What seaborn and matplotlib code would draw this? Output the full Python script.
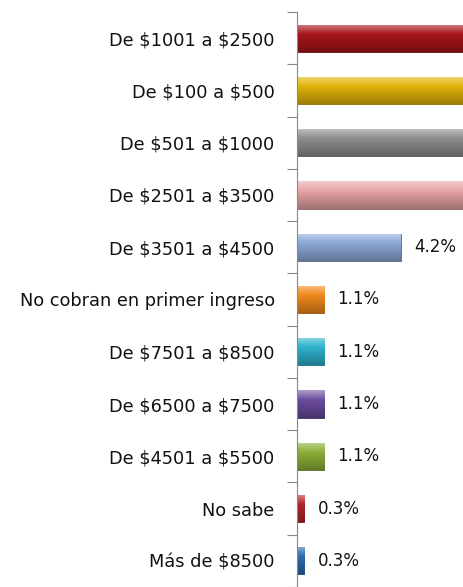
import numpy as np
import matplotlib.pyplot as plt
import matplotlib.colors as mcolors
import seaborn as sns

categories = [
    "De $1001 a $2500",
    "De $100 a $500",
    "De $501 a $1000",
    "De $2501 a $3500",
    "De $3501 a $4500",
    "No cobran en primer ingreso",
    "De $7501 a $8500",
    "De $6500 a $7500",
    "De $4501 a $5500",
    "No sabe",
    "Más de $8500",
]
# first four bars run off the visible area; values estimated
values = [32.6, 26.0, 19.3, 12.7, 4.2, 1.1, 1.1, 1.1, 1.1, 0.3, 0.3]
colors = ["#A8151B", "#E2B40A", "#8E8E8E", "#E8A2A4", "#8CA8D8", "#F08A1C",
          "#2EB2CE", "#6B4A9E", "#8BB038", "#B3252A", "#2F6BB0"]

sns.set_style("white")
plt.rcParams["font.family"] = ["DejaVu Sans"]
plt.rcParams["text.parse_math"] = False

fig = plt.figure(figsize=(4.64, 5.87), dpi=100)
ax = fig.add_axes([0.64, 0.0, 0.36, 0.9796])

sns.barplot(x=values, y=categories, hue=categories, palette=colors,
            orient="h", width=0.52, legend=False, saturation=1, ax=ax)

# glossy shading on each bar
for patch, c in zip(sorted(ax.patches, key=lambda p: p.get_y()), colors):
    x0, y0 = patch.get_x(), patch.get_y()
    w, h = patch.get_width(), patch.get_height()
    base = np.array(mcolors.to_rgb(c))
    t = np.linspace(0, 1, 32)[:, None]
    light = base + (1 - base) * 0.45
    dark = base * 0.7
    grad = np.where(t < 0.35, light + (base - light) * (t / 0.35),
                    base + (dark - base) * ((t - 0.35) / 0.65))
    img = grad[:, None, :]
    im = ax.imshow(img, extent=[x0, x0 + w, y0 + h, y0], aspect="auto",
                   zorder=patch.get_zorder() + 0.1, interpolation="bilinear")
    im.set_clip_path(patch)
    patch.set_edgecolor(tuple(base * 0.6))
    patch.set_linewidth(0.6)

for cont in ax.containers:
    ax.bar_label(cont, fmt="{:.1f}%", padding=9.5, fontsize=12, color="#111111")

ax.set_xlim(0, 6.76)
ax.set_ylim(10.5, -0.5)
ax.set_xticks([])
ax.set_xlabel("")
ax.set_ylabel("")
ax.set_yticks(np.arange(-0.5, 11, 1), minor=True)
ax.tick_params(axis="y", which="major", length=0, pad=16, labelsize=12.8,
               labelcolor="#111111")
ax.tick_params(axis="y", which="minor", length=7, width=0.8, color="#888888",
               left=True, direction="out")
for s in ["top", "right", "bottom"]:
    ax.spines[s].set_visible(False)
ax.spines["left"].set_color("#888888")
ax.spines["left"].set_linewidth(0.8)

fig.savefig("out.png", dpi=100)
